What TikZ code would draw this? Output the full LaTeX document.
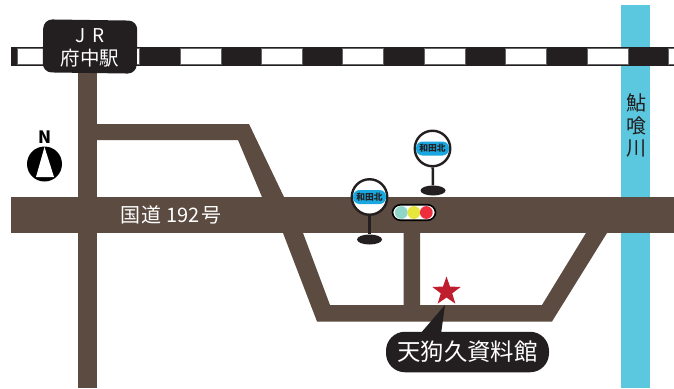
\documentclass[tikz,border=0pt]{standalone}
\usepackage{fontspec}
\setmainfont{Noto Sans CJK JP}
\usetikzlibrary{shapes.geometric}
\definecolor{road}{HTML}{5B4B40}
\definecolor{ink}{HTML}{231F20}
\definecolor{river}{HTML}{5BC8E0}
\definecolor{pill}{HTML}{1AA7E0}
\definecolor{lampgreen}{HTML}{8FD6C8}
\definecolor{lampyellow}{HTML}{E6E63C}
\definecolor{lampred}{HTML}{EE2D3D}
\definecolor{starred}{HTML}{BE1E2D}
\tikzset{
  roadfill/.style={fill=road,draw=none},
  whitebar/.style={fill=white,draw=black!60,line width=0.8pt},
  stopring/.style={circle,draw=ink,fill=white,line width=2.4pt,minimum size=35.5pt,inner sep=0pt},
  stoppill/.style={rounded corners=6.5pt,fill=pill,minimum width=33pt,minimum height=14pt,inner sep=0pt,text=ink,font=\bfseries\fontsize{8.8}{10}\selectfont},
  stopbase/.style={ellipse,fill=ink,minimum width=25pt,minimum height=10pt,inner sep=0pt},
  stopstem/.style={draw=ink,line width=2.5pt},
  lamp/.style={circle,minimum size=12.8pt,inner sep=0pt},
  labeltext/.style={text=white,inner sep=0pt},
}
\begin{document}
\begin{tikzpicture}[x=1pt,y=-1pt]
\useasboundingbox (0,0) rectangle (674,388);
\fill[white] (0,0) rectangle (674,388);
% river
\fill[river] (620.5,5) rectangle (650,388);
% railway
\fill[ink] (11,46.5) rectangle (674,65.5);
\foreach \a/\b in {17/58,98.6/139.6,180/221,261.4/302.4,342.8/383.8,424.2/465.2,505.6/546.6,587/628,668.4/676}
  \draw[whitebar] (\a,48.5) rectangle (\b,64);
% roads
\fill[roadfill] (11,197) rectangle (674,233);
\fill[roadfill] (78,60) rectangle (97,388);
\fill[roadfill] (97,124) -- (249,124) -- (284,197) -- (262,197) -- (238,140) -- (97,140) -- cycle;
\fill[roadfill] (283,233) -- (303,233) -- (330,305) -- (403.5,305) -- (403.5,233) -- (420,233) -- (420,305) -- (542,305) -- (586,233) -- (607,233) -- (552,321.5) -- (317,321.5) -- cycle;
% station
\node[rounded corners=9pt,fill=ink,minimum width=94pt,minimum height=53pt,inner sep=0pt,rotate=-0.8] (station) at (90,46.5) {};
\node[labeltext,font=\fontsize{19}{19}\selectfont] (jr) at (90,36) {J\hspace{7pt}R};
\node[labeltext,font=\fontsize{19.5}{20}\selectfont] (fuchu) at (90,58) {府中駅};
% north
\node[circle,fill=black,minimum size=35pt,inner sep=0pt] (compass) at (44.5,164) {};
\fill[white] (44.5,147) -- (54,177) -- (36,177) -- cycle;
\node[inner sep=0pt,text=black,font=\bfseries\fontsize{17}{17}\selectfont] (north) at (44.5,137) {N};
% road label
\node[labeltext,font=\fontsize{20}{20}\selectfont] (route) at (171,215) {国\hspace{1pt}道\hspace{5pt}192\hspace{2pt}号};
% river label
\node[inner sep=0pt,text=ink,font=\fontsize{20}{20}\selectfont] (r1) at (636.5,103) {鮎};
\node[inner sep=0pt,text=ink,font=\fontsize{20}{20}\selectfont] (r2) at (636.5,126) {喰};
\node[inner sep=0pt,text=ink,font=\fontsize{20}{20}\selectfont] (r3) at (636.5,148) {川};
% bus stops
\node[stopbase] (baseA) at (369.5,239.5) {};
\node[stopring] (ringA) at (369.5,197) {};
\draw[stopstem] (ringA) -- (baseA);
\node[stoppill] (pillA) at (369.5,197) {和田北};
\node[stopbase] (baseB) at (433,190.5) {};
\node[stopring] (ringB) at (432.5,148.5) {};
\draw[stopstem] (ringB) -- (baseB);
\node[stoppill] (pillB) at (432.5,148.5) {和田北};
% traffic light
\node[rounded corners=8pt,draw=black,fill=white,line width=1.6pt,minimum width=43pt,minimum height=15.5pt,inner sep=0pt] (signal) at (414,212.5) {};
\node[lamp,fill=lampgreen] at (401.3,212.5) {};
\node[lamp,fill=lampyellow] at (413.8,212.5) {};
\node[lamp,fill=lampred] at (426.3,212.5) {};
% star
\node[star,star points=5,star point ratio=2.5,fill=starred,minimum size=30pt,inner sep=0pt] (mark) at (446.5,291.5) {};
% callout
\coordinate (tip) at (445,305);
\node[rounded corners=19pt,fill=ink,minimum width=163pt,minimum height=40.5pt,inner sep=0pt] (museum) at (467.5,352) {};
\fill[ink] (tip) -- (441,334) -- (420,334) -- cycle;
\node[labeltext,font=\fontsize{23.4}{24}\selectfont] (museumtext) at (467.5,352) {天狗久資料館};
\end{tikzpicture}
\end{document}
